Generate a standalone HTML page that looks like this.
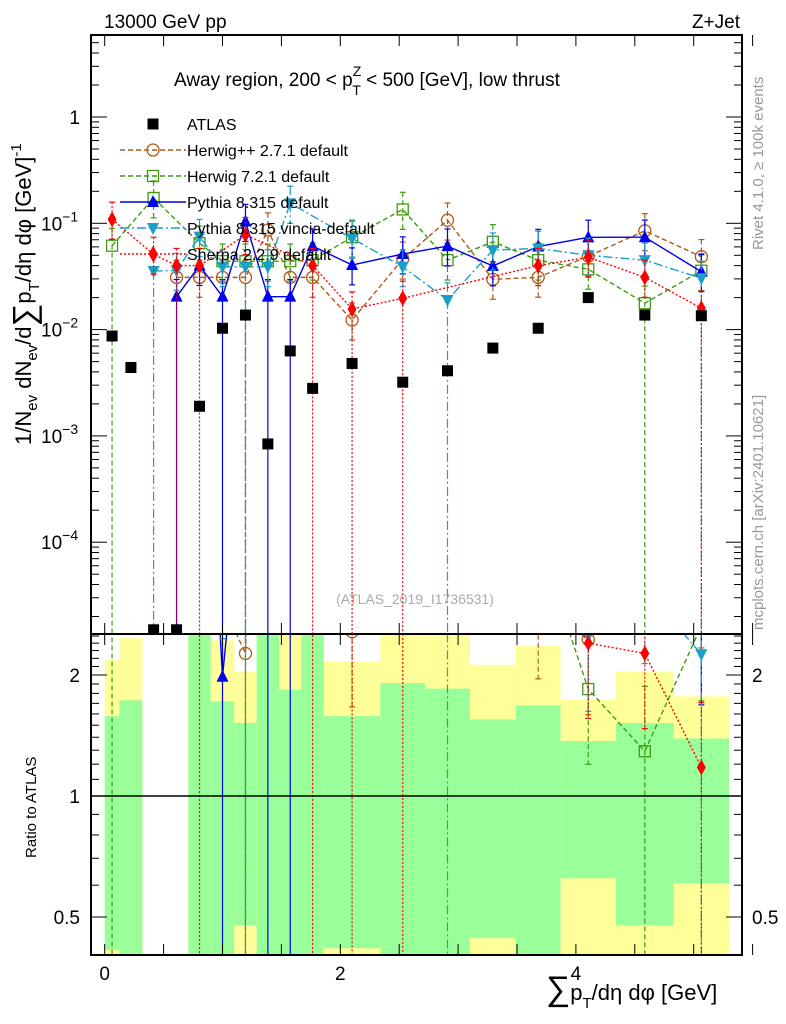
<!DOCTYPE html>
<html><head><meta charset="utf-8"><title>Away region chart</title>
<style>
html,body{margin:0;padding:0;background:#fff;width:786px;height:1024px;overflow:hidden;}
svg{display:block;font-family:"Liberation Sans",sans-serif;}
</style></head>
<body>
<svg id="chart" width="786" height="1024" viewBox="0 0 786 1024" xmlns="http://www.w3.org/2000/svg">
<defs>
<clipPath id="clipMain"><rect x="91" y="35" width="651" height="599"/></clipPath>
<clipPath id="clipRatio"><rect x="91" y="634" width="651" height="321"/></clipPath>
</defs>
<g id="bands" clip-path="url(#clipRatio)"></g>
<g id="main" clip-path="url(#clipMain)"></g>
<g id="ratio" clip-path="url(#clipRatio)"></g>
<g id="axes"></g>
<text x="104" y="28" font-size="19">13000 GeV pp</text>
<text x="740" y="28" font-size="19" text-anchor="end">Z+Jet</text>
<text x="174" y="86" font-size="19">Away region, 200 &lt; p<tspan font-size="14" dy="-10">Z</tspan><tspan font-size="14" dx="-9" dy="19">T</tspan><tspan dy="-9"> &lt; 500 [GeV], low thrust</tspan></text>
<text x="415" y="604" font-size="14" fill="#aaa" text-anchor="middle">(ATLAS_2019_I1736531)</text>
<text transform="translate(763,250) rotate(-90)" font-size="15" fill="#999">Rivet 4.1.0, ≥ 100k events</text>
<text transform="translate(763,630) rotate(-90)" font-size="15" fill="#999">mcplots.cern.ch [arXiv:2401.10621]</text>
<text transform="translate(31,445) rotate(-90)" font-size="22">1/N<tspan font-size="15" dy="6">ev</tspan><tspan dy="-6"> dN</tspan><tspan font-size="15" dy="6">ev</tspan><tspan dy="-6">/d</tspan><tspan font-size="32" dy="4">∑</tspan><tspan dy="-4">p</tspan><tspan font-size="15" dy="8">T</tspan><tspan dy="-8">/dη dφ  [GeV]</tspan><tspan font-size="15" dy="-10">-1</tspan></text>
<text transform="translate(36,858) rotate(-90)" font-size="15">Ratio to ATLAS</text>
<text x="546" y="1000" font-size="22"><tspan font-size="34">∑</tspan>p<tspan font-size="15" dy="8">T</tspan><tspan dy="-8">/dη dφ [GeV]</tspan></text>
<g id="legend"></g>
</svg>
<script>
// ---- data ----
const binEdges = [0,0.125,0.32,0.51,0.71,0.9,1.1,1.29,1.48,1.67,1.86,2.34,2.72,3.1,3.49,3.87,4.34,4.83,5.3];
const atlasValues = [0.0087,0.0044,1.5e-5,1.5e-5,0.0019,0.0103,0.0137,0.00084,0.0063,0.0028,0.0048,0.0032,0.0041,0.0067,0.0103,0.020,0.0137,0.0135];
const herwigppValues = [null,null,null,0.031,0.031,0.031,0.031,0.0865,0.031,0.031,0.0123,0.046,0.107,0.0297,0.031,0.049,0.085,0.0485];
const herwig7Values = [0.0616,null,0.173,null,0.065,0.044,0.044,0.044,0.044,0.045,0.074,0.135,0.045,0.067,0.045,0.0369,0.0177,0.0358];
const pythiaValues = [null,null,null,0.0204,0.040,0.0204,0.104,0.0204,0.0204,0.061,0.0405,0.0514,0.061,0.0397,0.0605,0.0738,0.074,0.035];
const vinciaValues = [null,null,0.0356,0.036,0.075,0.039,0.039,0.039,0.154,null,0.072,0.039,0.019,0.056,0.058,0.05,0.045,0.0304];
const sherpaValues = [0.109,null,0.051,0.040,0.040,null,0.078,null,null,0.040,0.0156,0.0197,null,null,0.040,0.048,0.031,0.0159];
const herwigppLowZero = [6];
const herwig7LowZero = [0,6,16];
const pythiaLowZero = [3,5,7,8];
const vinciaLowZero = [2,6,12,17];
const sherpaLowZero = [3,4,9,10,11,17];
const bandGreenHi = [1.58,1.73,null,null,2.6,1.72,1.52,2.6,1.84,2.6,1.58,1.91,1.85,1.55,1.68,1.37,1.52,1.39];
const bandGreenLo = [0.414,0.38,null,null,0.38,0.38,0.477,0.38,0.38,0.38,0.418,0.38,0.38,0.443,0.38,0.624,0.477,0.607];
const bandYellowHi = [2.18,2.47,null,null,2.6,2.44,2.04,2.6,2.6,2.6,2.16,2.6,2.6,2.12,2.36,1.74,2.04,1.77];
const bandYellowLo = [0.38,0.38,null,null,0.38,0.38,0.38,0.38,0.38,0.38,0.38,0.38,0.38,0.38,0.38,0.38,0.38,0.38];
const xTickLabels = ["0","2","4"];
const yTickLabels = ["1","10","10","10","10"];
const ratioTickLabels = ["0.5","1","2"];

const NS="http://www.w3.org/2000/svg";
const L=91,R=742,T=35,MB=634,RB=955;
const X=v=>104.7+v*117.8;
const Y=v=>117-106.3*Math.log10(v);
const RY=r=>796-402*Math.log10(r);
function mk(tag,attrs,parent){const e=document.createElementNS(NS,tag);for(const k in attrs)e.setAttribute(k,attrs[k]);parent.appendChild(e);return e;}
const gMain=document.getElementById('main'),gRatio=document.getElementById('ratio'),gBands=document.getElementById('bands'),gAxes=document.getElementById('axes'),gLeg=document.getElementById('legend');
const centers=atlasValues.map((_,i)=>(binEdges[i]+binEdges[i+1])/2);

for(let i=0;i<centers.length;i++){
  if(bandYellowHi[i]!==null){
    const r=mk('rect',{x:X(binEdges[i]),y:RY(bandYellowHi[i]),width:X(binEdges[i+1])-X(binEdges[i]),height:RY(bandYellowLo[i])-RY(bandYellowHi[i]),fill:'#ffff99'},gBands);
    
    
  }
  if(bandGreenHi[i]!==null){
    const r=mk('rect',{x:X(binEdges[i]),y:RY(bandGreenHi[i]),width:X(binEdges[i+1])-X(binEdges[i]),height:RY(bandGreenLo[i])-RY(bandGreenHi[i]),fill:'#99ff99'},gBands);
    
    
  }
}
const one=mk('line',{x1:L,x2:R,y1:RY(1),y2:RY(1),stroke:'#000','stroke-width':1.5},gAxes);



const f1=mk('rect',{x:L,y:T,width:R-L,height:MB-T,fill:'none',stroke:'#000','stroke-width':2},gAxes);


const f2=mk('rect',{x:L,y:MB,width:R-L,height:RB-MB,fill:'none',stroke:'#000','stroke-width':2},gAxes);



for(let v=0;v<=5.5;v+=0.5){
  const x=X(v);
  [[T,1],[MB,-1],[MB,1],[RB,-1]].forEach(([y,d])=>{
    const t=mk('line',{x1:x,x2:x,y1:y,y2:y+d*11,stroke:'#000','stroke-width':1},gAxes);
    
    
  });
}
xTickLabels.forEach((s,i)=>{
  const t=mk('text',{x:X(i*2),y:980,'font-size':19,'text-anchor':'middle'},gAxes);t.textContent=s;
  
  
});
for(let e=-5;e<=0;e++){
  for(let m=1;m<10;m++){
    const v=m*Math.pow(10,e),y=Y(v);
    if(y<T||y>MB)continue;
    const len=m===1?16:8;
    [[L,1],[R,-1]].forEach(([x,d])=>{
      const t=mk('line',{x1:x,x2:x+d*len,y1:y,y2:y,stroke:'#000','stroke-width':1},gAxes);
      
      
    });
  }
}
yTickLabels.forEach((s,i)=>{
  const t=mk('text',{x:i===0?80:41,y:Y(Math.pow(10,-i))+7,'font-size':19,'text-anchor':i===0?'end':'start'},gAxes);
  
  
  t.textContent=s;
  if(i>0){const ts=mk('tspan',{'font-size':14,dy:-9},t);ts.textContent='−'+i;}
});
for(let r=0.4;r<=2.55;r+=0.1){
  const rr=Math.round(r*10)/10,y=RY(rr);
  if(y<MB||y>RB)continue;
  const major=(rr===0.5||rr===1||rr===2);
  [[L,1],[R,-1]].forEach(([x,d])=>{
    const t=mk('line',{x1:x,x2:x+d*(major?16:8),y1:y,y2:y,stroke:'#000','stroke-width':1},gAxes);
    
    
  });
}
ratioTickLabels.forEach(s=>{
  const v=parseFloat(s);
  const t=mk('text',{x:80,y:RY(v)+7,'font-size':19,'text-anchor':'end'},gAxes);t.textContent=s;
  
  
  if(s!=='1'){
    const t2=mk('text',{x:752,y:RY(v)+7,'font-size':19},gAxes);t2.textContent=s;
    
    
  }
});

function marker(kind,x,y,color,parent){
  let e;
  if(kind==='sq'){e=mk('rect',{x:x-5.5,y:y-5.5,width:11,height:11,fill:'#000'},parent);}
  else if(kind==='circ'){e=mk('circle',{cx:x,cy:y,r:6,fill:'none',stroke:color,'stroke-width':1.3},parent);}
  else if(kind==='osq'){e=mk('rect',{x:x-5.5,y:y-5.5,width:11,height:11,fill:'none',stroke:color,'stroke-width':1.3},parent);}
  else if(kind==='up'){e=mk('polygon',{points:`${x},${y-7} ${x-6},${y+5} ${x+6},${y+5}`,fill:color},parent);}
  else if(kind==='down'){e=mk('polygon',{points:`${x},${y+7} ${x-6},${y-5} ${x+6},${y-5}`,fill:color},parent);}
  else {e=mk('polygon',{points:`${x},${y-8} ${x-4.5},${y} ${x},${y+8} ${x+4.5},${y}`,fill:color},parent);}
  return e;
}
const series=[
  {name:'herwigpp',label:'Herwig++ 2.7.1 default',vals:herwigppValues,low:herwigppLowZero,color:'#b05a18',dash:'5,3',m:'circ'},
  {name:'herwig7',label:'Herwig 7.2.1 default',vals:herwig7Values,low:herwig7LowZero,color:'#3f9a10',dash:'5,3',m:'osq'},
  {name:'pythia',label:'Pythia 8.315 default',vals:pythiaValues,low:pythiaLowZero,color:'#0000ee',dash:'',m:'up'},
  {name:'vincia',label:'Pythia 8.315 vincia-default',vals:vinciaValues,low:vinciaLowZero,color:'#1a9fc8',dash:'9,3,2,3',m:'down'},
  {name:'sherpa',label:'Sherpa 2.2.9 default',vals:sherpaValues,low:sherpaLowZero,color:'#ff0000',dash:'2,2',m:'dia'}
];
series.forEach(s=>{
  [[gMain,Y],[gRatio,RY]].forEach(([g,F],pi)=>{
    const pts=[];
    s.vals.forEach((v,i)=>{
      if(v===null)return;
      const val=pi===0?v:v/atlasValues[i];
      if(pi===1&&atlasValues[i]<1e-4)return;
      const x=X(centers[i]),y=F(val);
      pts.push([x,y]);
      const lowZ=s.low.includes(i);
      const lo=lowZ?1000:F(val*0.65),hi=F(val*1.45);
      const eb=mk('line',{x1:x,x2:x,y1:hi,y2:lo,stroke:s.color,'stroke-width':1.2,'stroke-dasharray':s.dash},g);
      
      
      [hi,lowZ?null:lo].forEach(yy=>{if(yy===null)return;const c=mk('line',{x1:x-3,x2:x+3,y1:yy,y2:yy,stroke:s.color,'stroke-width':1.2},g);
        
        });
    });
    const pl=mk('polyline',{points:pts.map(p=>p.join(',')).join(' '),fill:'none',stroke:s.color,'stroke-width':1.4,'stroke-dasharray':s.dash},g);
    
    
    pts.forEach(p=>{const e=marker(s.m,p[0],p[1],s.color,g);
      
      });
  });
});
atlasValues.forEach((v,i)=>{
  const x=X(centers[i]);
  const e=marker('sq',x,Y(v),'#000',gMain);
  
  
});

const legY=[124,150,176,202,228,254];
let lm=marker('sq',153,legY[0],'#000',gLeg);


let lt=mk('text',{x:187,y:legY[0]+6,'font-size':16},gLeg);lt.textContent='ATLAS';


series.forEach((s,k)=>{
  const y=legY[k+1];
  const ln=mk('line',{x1:120,x2:186,y1:y,y2:y,stroke:s.color,'stroke-width':1.4,'stroke-dasharray':s.dash},gLeg);
  
  
  const m=marker(s.m,153,y,s.color,gLeg);
  
  
  const t=mk('text',{x:187,y:y+6,'font-size':16},gLeg);t.textContent=s.label;
  
  
});
</script>
</body></html>
